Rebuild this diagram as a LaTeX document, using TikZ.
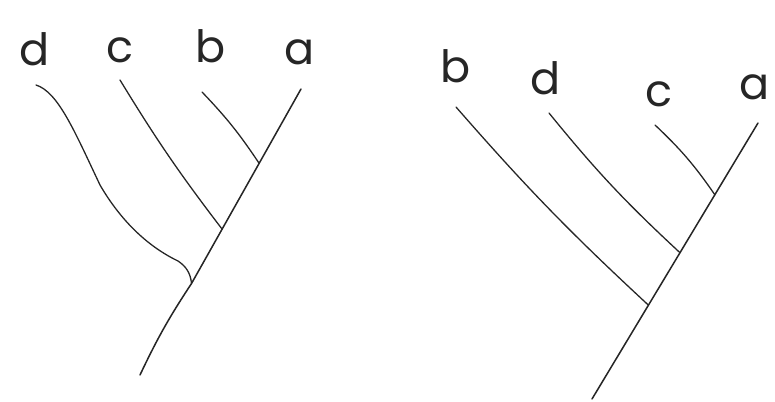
\documentclass[tikz,border=0pt]{standalone}
\usepackage{fontspec}
\setmainfont{Poppins}
\usetikzlibrary{calc}
\definecolor{cink}{HTML}{262626}
\tikzset{
  every picture/.style={x=0.03cm, y=-0.03cm},
  leaf/.style={anchor=base, inner sep=0pt, text=cink, font=\fontsize{38}{38}\selectfont},
  branch/.style={draw=cink, line width=1.1pt, line cap=round},
  trunk/.style={draw=cink, line width=1.3pt, line cap=round},
}
\begin{document}
\begin{tikzpicture}
  \useasboundingbox (0,0) rectangle (775,402);
  % left tree: ((d,(c,(b,a))))
  \foreach \n/\x/\y in {d/35/66, c/120/63, b/211/63, a/300/65}
    \node[leaf] (L\n) at (\x,\y) {\n};
  \coordinate (Lroot) at (140,375);
  \coordinate (Ltipa) at (301,89);
  \coordinate (Ltipb) at (202,92);
  \coordinate (Ltipc) at (120,80);
  \coordinate (Ltipd) at (36,85);
  \coordinate (Ljb) at ($(Lroot)!0.74!(Ltipa)$);
  \coordinate (Ljc) at ($(Lroot)!0.51!(Ltipa)$);
  \coordinate (Ljd) at ($(Lroot)!0.32!(Ltipa)$);
  \draw[trunk] (Lroot) to[bend left=4] (Ljd) -- (Ltipa);
  \draw[branch] (Ltipb) to[bend left=5] (Ljb);
  \draw[branch] (Ltipc) to[bend right=3] (Ljc);
  \draw[branch] (Ltipd) .. controls (58,92) and (74,130) .. (100,185)
    .. controls (125,228) and (155,250) .. (178,261) to[bend left=25] (Ljd);
  % right tree: (b,(d,(c,a)))
  \foreach \n/\x/\y in {b/456/83, d/546/95, c/659/107, a/755/100}
    \node[leaf] (R\n) at (\x,\y) {\n};
  \coordinate (Rroot) at (592,399);
  \coordinate (Rtipa) at (758,123);
  \coordinate (Rtipc) at (655,125);
  \coordinate (Rtipd) at (549,113);
  \coordinate (Rtipb) at (456,107);
  \coordinate (Rjc) at ($(Rroot)!0.74!(Rtipa)$);
  \coordinate (Rjd) at ($(Rroot)!0.53!(Rtipa)$);
  \coordinate (Rjb) at ($(Rroot)!0.34!(Rtipa)$);
  \draw[trunk] (Rroot) -- (Rtipa);
  \draw[branch] (Rtipc) to[bend left=6] (Rjc);
  \draw[branch] (Rtipd) to[bend right=4] (Rjd);
  \draw[branch] (Rtipb) to[bend right=3] (Rjb);
\end{tikzpicture}
\end{document}
